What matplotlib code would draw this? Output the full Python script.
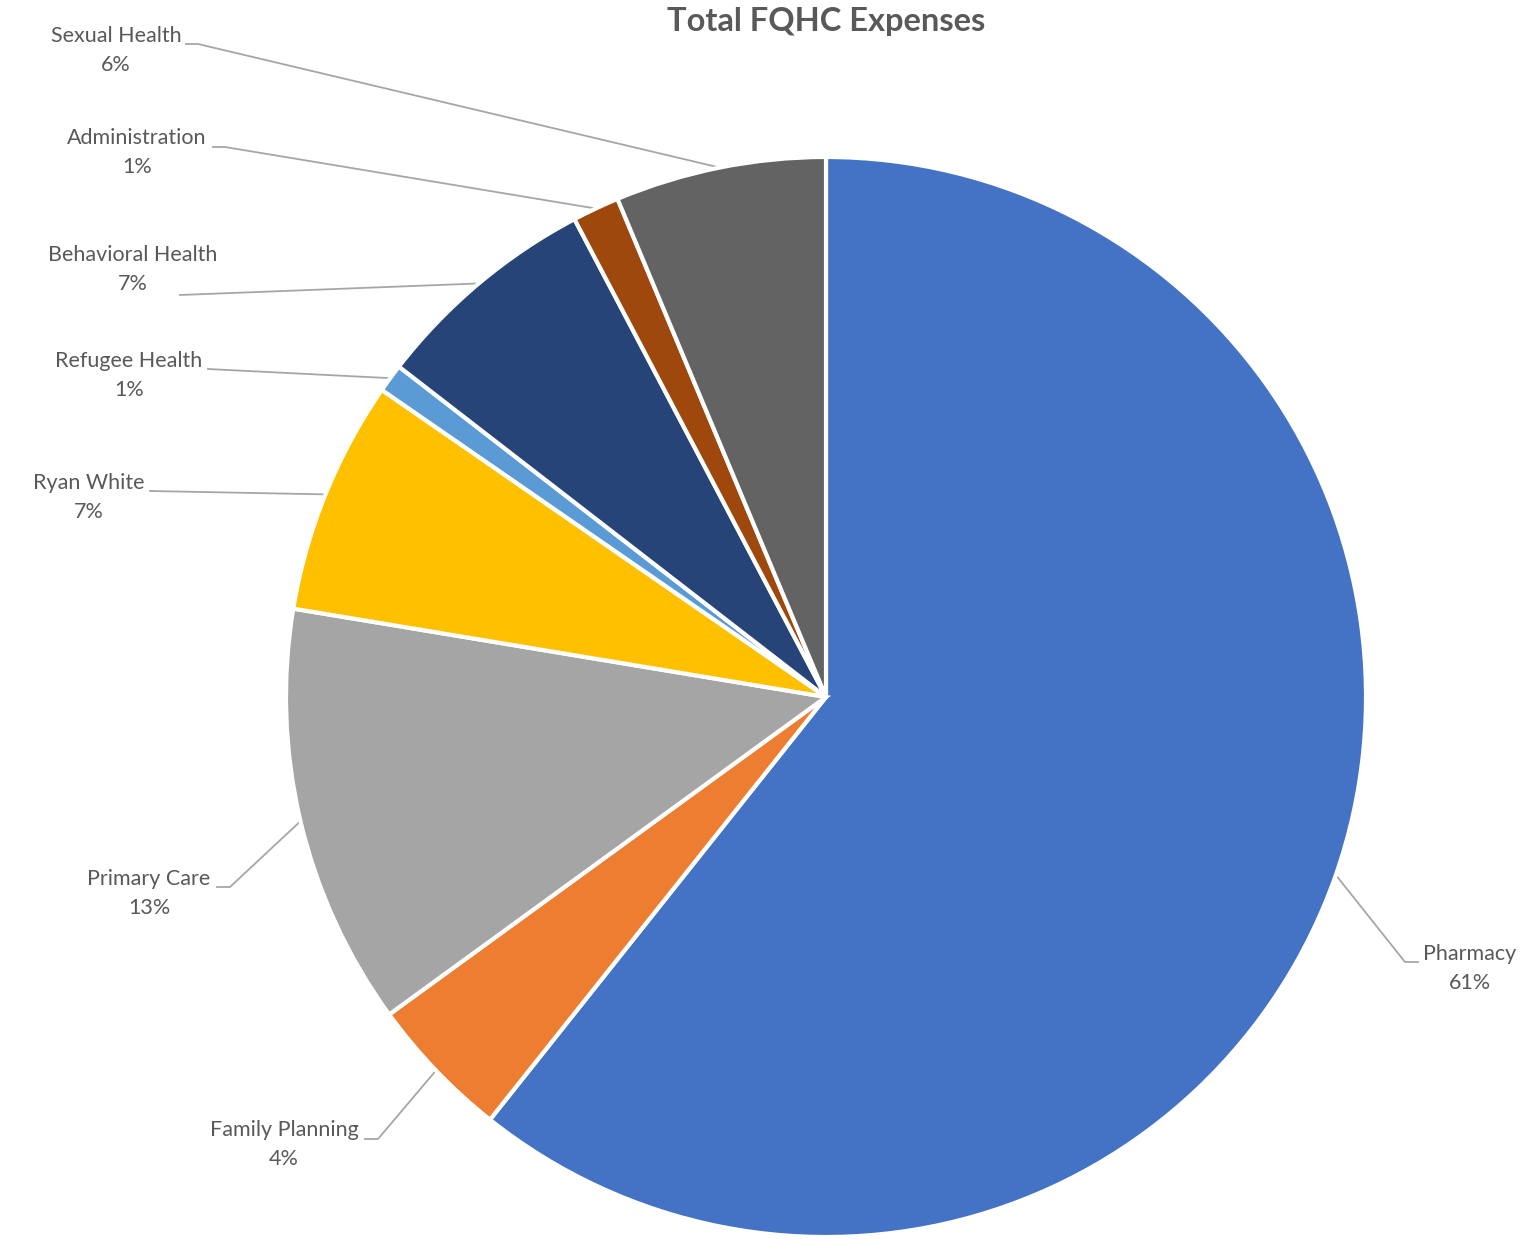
import matplotlib.pyplot as plt
import numpy as np

categories = ['Pharmacy', 'Family Planning', 'Primary Care', 'Ryan White',
              'Refugee Health', 'Behavioral Health', 'Administration', 'Sexual Health']
shares = [60.6, 4.3, 12.6, 7.0, 0.85, 6.8, 1.4, 6.3]
colors = ['#4472C4', '#ED7D31', '#A5A5A5', '#FFC000',
          '#5B9BD5', '#264478', '#9E480E', '#636363']

W, H = 1523, 1239
plt.rcParams['font.family'] = ['Lato', 'DejaVu Sans']

fig = plt.figure(figsize=(W / 100, H / 100), dpi=100)
ax = fig.add_axes([0, 0, 1, 1])

cx, cy, r = 826, H - 697, 540
wedges, _ = ax.pie(shares, colors=colors, startangle=90, counterclock=False,
                   center=(cx, cy), radius=r,
                   wedgeprops=dict(edgecolor='white', linewidth=3))
ax.set_xlim(0, W)
ax.set_ylim(0, H)
ax.axis('off')

# label text centre (pixels from top-left) and leader line start points
label_pos = [(1470, 954), (284, 1130), (149, 879), (89, 483),
             (129, 361), (133, 255), (137, 138), (116, 36)]
leader_start = [[(1418, 962), (1405, 962)],
                [(365, 1139), (378, 1139)],
                [(217, 887), (230, 887)],
                [(150, 491)],
                [(208, 369)],
                [(180, 295)],
                [(213, 147), (225, 147)],
                [(186, 44), (198, 44)]]

total = sum(shares)
txt_col = '#595959'
for w, name, s, (tx, ty), pts in zip(wedges, categories, shares, label_pos, leader_start):
    mid = np.deg2rad((w.theta1 + w.theta2) / 2)
    end = (cx + r * np.cos(mid), cy + r * np.sin(mid))
    xs = [p[0] for p in pts] + [end[0]]
    ys = [H - p[1] for p in pts] + [end[1]]
    ax.plot(xs, ys, color='#A6A6A6', lw=1.3, zorder=0)
    ax.text(tx, H - ty, name, ha='center', va='center', fontsize=15.5, color=txt_col)
    ax.text(tx, H - ty - 29, f"{round(s / total * 100):.0f}%", ha='center', va='center',
            fontsize=15.5, color=txt_col)

ax.text(826, H - 21, 'Total FQHC Expenses', ha='center', va='center',
        fontsize=23.5, fontweight='bold', color=txt_col)

fig.savefig('out.png', dpi=100)
